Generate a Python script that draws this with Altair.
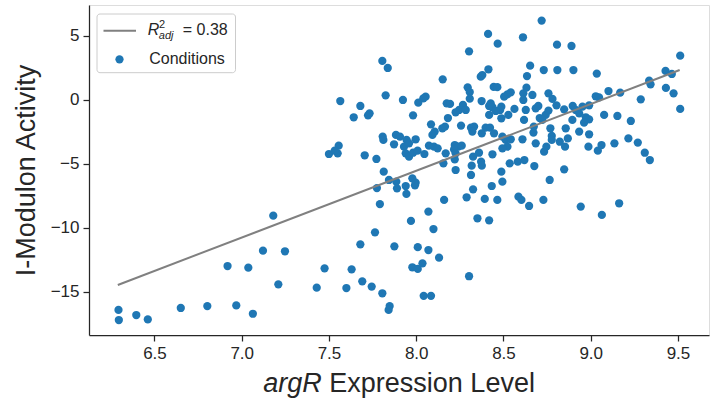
import altair as alt
import pandas as pd

# ---- data ----
expr = [
    6.294, 6.296, 6.396, 6.462, 6.651, 6.803, 6.919, 6.969, 7.038, 7.064,
    7.122, 7.181, 7.21, 7.248, 7.43, 7.475, 7.6, 7.63, 7.68, 7.691,
    7.745, 7.764, 7.806, 7.848, 7.842, 7.875, 7.97, 7.978, 8.009, 8.036,
    8.009, 8.07, 8.07, 8.099, 8.131, 8.043, 8.085, 8.303, 8.351, 8.418,
    7.792, 8.943, 9.064, 9.163,
    7.565, 7.642, 7.556, 7.550, 7.500, 7.533, 7.806, 7.837, 7.68, 7.825, 7.924,
    8.719, 8.412, 8.612, 8.467, 8.807, 8.890, 8.303, 9.513, 8.414, 8.653,
    8.731, 8.809, 8.901, 9.035, 9.429, 9.465, 8.635, 8.370, 8.379, 8.152,
    9.335, 9.343, 9.431, 9.475, 9.513, 9.287, 9.169, 9.102, 9.029, 9.048,
    8.295, 8.307, 8.307, 8.444, 8.465, 8.542, 8.523, 8.504, 8.632, 8.666,
    8.614, 8.614, 8.758, 8.781, 8.804, 8.848, 8.897, 8.953, 8.991, 8.054,
    8.041, 8.012, 7.733, 7.724, 7.982, 8.175, 8.194, 8.246, 8.268, 8.226,
    8.284, 8.182, 8.375, 8.418, 8.427, 8.437, 8.418, 8.488, 8.481, 8.456,
    8.528, 8.488, 8.563, 8.628, 8.685, 8.700, 8.708, 8.742, 8.758, 8.618,
    8.723, 8.895, 8.914, 8.934, 8.972, 8.991, 8.962, 9.077, 9.153, 9.230,
    8.085, 8.257, 8.314, 8.332, 8.398, 8.423, 8.376, 8.446, 8.322, 8.150,
    8.165, 8.106, 8.093, 7.808, 7.812, 7.884, 7.907, 7.873, 7.945, 7.997,
    7.930, 7.959, 7.940, 7.959, 7.982, 8.008, 8.047, 8.073, 8.102, 8.123,
    8.169, 8.156, 8.221, 8.242, 8.217, 8.261, 8.226, 8.221, 8.226, 8.326,
    8.360, 8.318, 8.314, 8.326, 8.372, 8.376, 8.437, 8.488, 8.494, 8.433,
    8.494, 8.513, 8.542, 8.523, 8.494, 8.536, 8.582, 8.620, 8.609, 8.677,
    8.685, 8.672, 8.674, 8.733, 8.746, 8.769, 8.777, 8.777, 8.823, 8.853,
    8.869, 8.857, 8.848, 8.765, 8.934, 8.991, 8.987, 9.041, 9.062, 9.136,
    9.216, 9.270, 9.310, 9.339, 7.886, 7.844, 7.814, 7.772, 7.705, 7.978,
    7.997, 7.993, 7.940, 7.890, 7.775, 7.944, 8.586, 8.160, 8.289, 8.393,
    8.465, 8.603, 8.647, 8.729,
]
activity = [
    -16.4, -17.19, -16.8, -17.14, -16.25, -16.1, -12.97, -16.05, -13.1, -16.7,
    -11.77, -9.04, -14.4, -11.82, -14.66, -13.15, -14.69, -13.23, -11.28, -14.17,
    -14.58, -10.34, -15.1, -16.1, -16.4, -11.43, -9.45, -13.07, -13.2, -12.76,
    -11.5, -8.72, -11.72, -10.08, -12.32, -15.3, -15.3, -13.77, -9.24, -9.4,
    -8.13, -8.33, -8.98, -8.07,
    -0.08, -1.35, -3.57, -4.17, -4.22, -3.96, 3.05, 2.5, -0.47, 0.36, 0.0,
    6.2, 5.16, 4.9, 4.4, 4.32, 4.22, 3.80, 3.46, 2.4, 2.68,
    2.34, 2.34, 2.34, 2.06, 2.27, 2.03, 1.87, 1.82, 1.95, 1.61,
    1.51, 1.22, 0.94, 0.52, -0.70, 0.05, 0.57, 0.70, 0.29, 0.21,
    0.99, 0.62, 0.10, 1.02, 1.0, 0.6, 0.44, 0.26, 0.96, 0.39,
    0.52, 0.0, 0.52, 0.08, -0.42, -0.73, -0.47, -0.52, -0.42, 0.26,
    0.13, -0.21, -1.04, -1.2, -1.2, -0.26, -0.31, -0.78, -0.39, -0.96,
    -0.78, -1.41, -0.08, -0.47, -0.26, -0.57, -1.17, -0.52, -0.78, -0.86,
    -1.17, -1.43, -0.70, -0.78, -0.65, -0.47, -1.41, -1.17, -0.83, -1.56,
    -1.56, -1.56, -0.78, -1.04, -1.35, -1.51, -1.77, -1.17, -1.25, -1.64,
    -1.9, -2.0, -2.16, -2.08, -2.16, -2.16, -2.6, -2.6, -2.47, -2.21,
    -2.08, -2.47, -2.73, -2.86, -3.12, -2.73, -2.86, -3.46, -3.12, -3.07,
    -3.65, -3.39, -4.17, -4.43, -4.12, -3.96, -4.22, -3.57, -3.65, -3.78,
    -4.17, -4.95, -3.52, -3.65, -3.86, -3.57, -4.17, -4.64, -5.47, -4.43,
    -4.12, -5.13, -5.86, -6.98, -4.82, -5.13, -4.24, -5.6, -6.38, -6.72,
    -2.86, -3.12, -3.07, -3.65, -3.78, -4.95, -4.82, -4.69, -3.07, -5.16,
    -3.39, -2.55, -2.08, -4.04, -3.65, -2.21, -2.81, -3.12, -3.26, -3.65,
    -3.0, -2.21, -5.42, -6.25, -2.47, -2.68, -3.65, -3.96, -3.52, -3.39,
    -3.0, -3.33, -4.12, -4.69, -6.38, -6.25, -5.6, -4.61, -4.32, -6.12,
    -6.46, -6.67, -6.72, -6.90, -6.88, -7.34, -7.55, -7.81, -7.6, -7.73,
    -7.81, -7.81, -8.28, -7.81,
]
fit_x = [6.29, 9.51]
fit_y = [-14.45, 2.34]
x_ticks = [6.5, 7.0, 7.5, 8.0, 8.5, 9.0, 9.5]
y_ticks = [-15, -10, -5, 0, 5]
x_domain = [6.125, 9.678]
y_domain = [-18.36, 7.42]
r2_value = "0.38"
series_label = "Conditions"
x_title_gene = "argR"
x_title_rest = "Expression Level"
y_title = "I-Modulon Activity"

FONT = "Liberation Sans"
INK = "#262626"
BLUE = "#1f77b4"
GRAY = "#808080"

pts = pd.DataFrame({"expr": expr, "activity": activity})
fit = pd.DataFrame({"expr": fit_x, "activity": fit_y})
one = pd.DataFrame({"k": [0]})

xscale = alt.Scale(domain=x_domain, nice=False, zero=False)
yscale = alt.Scale(domain=y_domain, nice=False, zero=False)

xaxis = alt.Axis(values=x_ticks, format=".1f", title=None, grid=False,
                 labelFont=FONT, labelFontSize=17, labelColor=INK, labelPadding=4,
                 domainColor=INK, domainWidth=1.25, tickColor=INK, tickWidth=1.25,
                 tickSize=6)
yaxis = alt.Axis(values=y_ticks, format="d", title=y_title, grid=False,
                 labelFont=FONT, labelFontSize=17, labelColor=INK, labelPadding=4,
                 domainColor=INK, domainWidth=1.25, tickColor=INK, tickWidth=1.25,
                 tickSize=6, titleFont=FONT, titleFontSize=27, titleFontWeight="normal",
                 titleColor=INK, titleBaseline="alphabetic", titleX=-55, titleY=165,
                 titleAngle=270)

points = alt.Chart(pts).mark_circle(size=68, color=BLUE, opacity=1).encode(
    x=alt.X("expr:Q", scale=xscale, axis=xaxis),
    y=alt.Y("activity:Q", scale=yscale, axis=yaxis),
)
line = alt.Chart(fit).mark_line(color=GRAY, strokeWidth=2).encode(
    x=alt.X("expr:Q", scale=xscale),
    y=alt.Y("activity:Q", scale=yscale),
)

def txt(s, x, y, size, style="normal", align="left"):
    return alt.Chart(one).mark_text(text=s, font=FONT, fontSize=size, fontStyle=style,
                                    align=align, baseline="alphabetic", color=INK).encode(
        x=alt.value(x), y=alt.value(y))

legend_box = alt.Chart(one).mark_rect(fill="white", stroke="#cccccc", strokeWidth=1,
                                      cornerRadius=3).encode(
    x=alt.value(8), x2=alt.value(146.5), y=alt.value(9), y2=alt.value(67.7))
legend_line = alt.Chart(one).mark_rule(color=GRAY, strokeWidth=2).encode(
    x=alt.value(14.5), x2=alt.value(47), y=alt.value(25.7))
legend_dot = alt.Chart(one).mark_circle(size=68, color=BLUE, opacity=1).encode(
    x=alt.value(30.5), y=alt.value(54.3))

layers = [
    points, line, legend_box, legend_line, legend_dot,
    txt("R", 58.8, 30, 16, "italic"),
    txt("2", 70, 23, 11),
    txt("adj", 69.8, 33.5, 11, "italic"),
    txt("= " + r2_value, 93.8, 30, 16),
    txt(series_label, 60.2, 59, 16),
    txt(x_title_gene, 232.8, 387, 27, "italic", "right"),
    txt(x_title_rest, 240.3, 387, 27),
]

chart = alt.layer(*layers).properties(
    width=620, height=330,
    autosize=alt.AutoSizeParams(type="none"),
    padding={"left": 89, "top": 5, "right": 7, "bottom": 66},
).configure_view(stroke=INK, strokeWidth=1.25).configure(background="white")

chart.save("out.html", embed_options={"renderer": "svg", "actions": False})
